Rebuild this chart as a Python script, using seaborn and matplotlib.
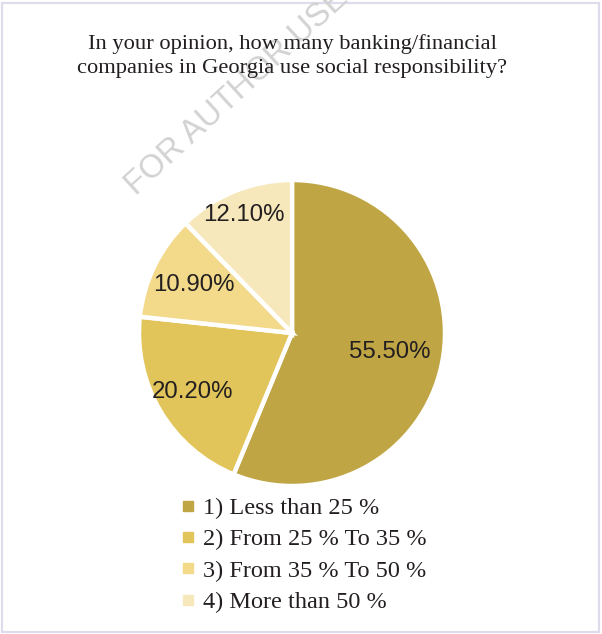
import matplotlib
matplotlib.use("Agg")
import matplotlib.pyplot as plt
import seaborn as sns
import numpy as np
from matplotlib.lines import Line2D
from matplotlib.patches import Rectangle

# Survey answers (percent of respondents)
categories = ["1) Less than 25 %", "2) From 25 % To 35 %",
              "3) From 35 % To 50 %", "4) More than 50 %"]
shares = [55.5, 20.2, 10.9, 12.1]
label_texts = ["55.50%", "20.20%", "10.90%", "12.10%"]

title = ("In your opinion, how many banking/financial\n"
         "companies in Georgia use social responsibility?")

sns.set_theme(style="white")
palette = sns.color_palette(["#BFA544", "#E2C55A", "#F2DA8A", "#F6E8BA"])

W, H = 602, 634
fig = plt.figure(figsize=(W / 100, H / 100), dpi=100)
fig.patch.set_facecolor("white")

# light frame round the figure
fig.add_artist(Rectangle((1.5 / W, 2.5 / H), (W - 4.5) / W, (H - 5) / H,
                         transform=fig.transFigure, fill=False,
                         edgecolor="#DCDCEC", linewidth=1.6, zorder=0))

# watermark
fig.text(136 / W, 1 - 196 / H, "FOR AUTHOR USE", rotation=42.5,
         rotation_mode="anchor", ha="left", va="baseline",
         fontsize=23.5, family="Liberation Sans", color="#D2D2D2", zorder=1)

fig.text(292 / W, 1 - 56 / H, title, ha="center", va="center",
         fontsize=16.2, family="Liberation Serif", color="#231F20",
         linespacing=1.38, zorder=3)

# pie: centre (292, 333) px, radius 153 px
ax = fig.add_axes([139 / W, 1 - 486 / H, 306 / W, 306 / H])
wedges, _ = ax.pie(shares, colors=palette, startangle=90, counterclock=False,
                   radius=1.0,
                   wedgeprops=dict(edgecolor="white", linewidth=3.2))
ax.set_xlim(-1, 1)
ax.set_ylim(-1, 1)
ax.set_aspect("equal")
ax.axis("off")

# value labels, placed along each wedge's mid angle
label_dist = [0.65, 0.76, 0.71, 0.83]
for w, txt, d in zip(wedges, label_texts, label_dist):
    mid = np.deg2rad((w.theta1 + w.theta2) / 2)
    ax.text(d * np.cos(mid), d * np.sin(mid), txt, ha="center", va="center",
            fontsize=17.3, family="Liberation Sans", color="#231F20")

handles = [Line2D([], [], marker="s", linestyle="none", markersize=6.5,
                  markerfacecolor=c, markeredgecolor=c) for c in palette]
leg = fig.legend(handles, categories, loc="upper left",
                 bbox_to_anchor=(184 / W, 1 - 497 / H), frameon=False,
                 prop=dict(family="Liberation Serif", size=17.5),
                 handlelength=0.37, handletextpad=0.42, labelspacing=0.385,
                 borderpad=0, borderaxespad=0)
for t in leg.get_texts():
    t.set_color("#231F20")

fig.savefig("out.png", dpi=100, facecolor="white")
